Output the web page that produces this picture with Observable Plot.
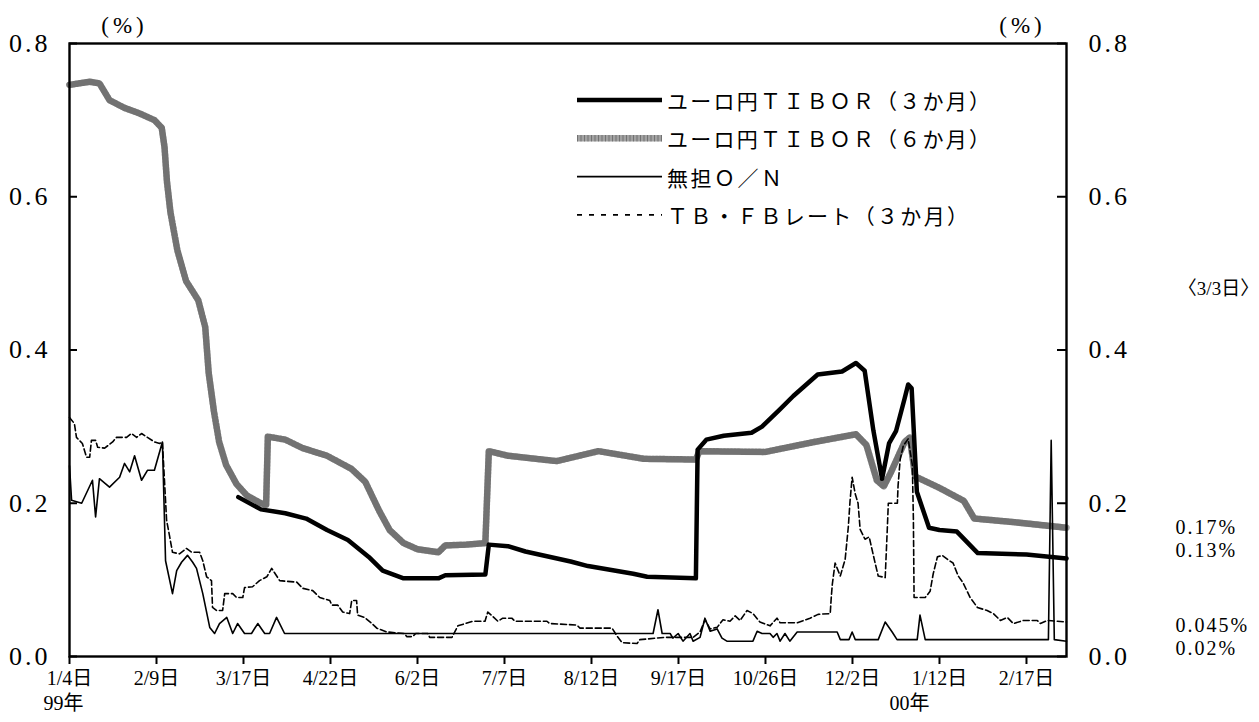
<!DOCTYPE html>
<html><head><meta charset="utf-8">
<script src="https://cdn.jsdelivr.net/npm/d3@7"></script>
<script src="https://cdn.jsdelivr.net/npm/@observablehq/plot@0.6"></script>
<style>
body{margin:0;background:#fff;}
#chart{width:1259px;height:722px;}
</style></head><body><div id="chart"></div>
<script>
// ---- data: x = business-day index from 1999-01-04, y = rate (%) ----
const xTickDays = [0, 25, 50, 75, 100, 125, 150, 175, 200, 225, 250, 275];
const xTickLabels = ["1/4日","2/9日","3/17日","4/22日","6/2日","7/7日","8/12日","9/17日","10/26日","12/2日","1/12日","2/17日"];
const yTicks = [0, 0.2, 0.4, 0.6, 0.8];
const yearDays = [0, 250];
const yearLabels = ["99年", "00年"];
const seriesNames = ["ユーロ円ＴＩＢＯＲ（３か月）", "ユーロ円ＴＩＢＯＲ（６か月）", "無担Ｏ／Ｎ", "ＴＢ・ＦＢレート（３か月）"];
const lastDay = 286.5;
const endValues = [0.17, 0.13, 0.045, 0.02];
const endLabels = ["0.17%", "0.13%", "0.045%", "0.02%"];
const endDate = "〈3/3日〉";

const tibor6m = [[0,.746],[5.8,.750],[8.6,.748],[11.5,.726],[15.8,.716],[20,.709],[24.4,.700],[26.5,.690],[27.3,.665],[28,.620],[29,.580],[31,.530],[33.5,.490],[37,.465],[39,.430],[40,.370],[41.5,.320],[43,.280],[45,.250],[48,.225],[51,.210],[55,.200],[56.5,.198],[57,.287],[62,.283],[67,.272],[74,.262],[81,.245],[85,.228],[89,.190],[92,.165],[96,.148],[100,.140],[106,.136],[108,.145],[114,.146],[119.5,.148],[120.5,.268],[126,.262],[140,.255],[152,.268],[165,.258],[180,.257],[181,.268],[200,.267],[214,.280],[226,.290],[229,.276],[232,.230],[234,.222],[236,.240],[240,.280],[241.5,.286],[243,.235],[250,.220],[257,.203],[260,.180],[270,.176],[286.5,.168]];

const tibor3m = [[48.5,.208],[55,.192],[62,.187],[68,.180],[74,.165],[80,.152],[86,.130],[90,.112],[96,.102],[106,.102],[108,.106],[119.5,.107],[120.5,.146],[126,.144],[131,.137],[144,.124],[149,.118],[162,.108],[166,.104],[180,.102],[180.5,.270],[183,.283],[188,.288],[196,.292],[199,.300],[204,.322],[208,.340],[215,.368],[222,.372],[226,.383],[228.5,.373],[231,.295],[233.5,.232],[235.5,.278],[237.5,.294],[240,.337],[241,.355],[242,.350],[243.5,.215],[247,.168],[250,.165],[255,.163],[261,.135],[275,.133],[286.5,.128]];

const overnight = [[0,.249],[0.6,.204],[3.5,.200],[6.6,.230],[7.5,.182],[8.6,.232],[11.5,.221],[14.4,.234],[15.8,.252],[17.3,.241],[18.7,.262],[20.7,.230],[22.4,.243],[24.4,.243],[26.7,.280],[27.6,.125],[29.6,.082],[30.8,.112],[32.2,.123],[33.9,.132],[35.4,.123],[36.5,.115],[38.3,.082],[40.3,.038],[41.7,.030],[43.1,.043],[45.2,.051],[46.9,.030],[48.3,.043],[50.3,.030],[52.3,.030],[54.1,.043],[56.1,.030],[57.5,.030],[59.5,.051],[61.8,.030],[167.7,.030],[169.1,.061],[170.3,.030],[172.6,.030],[173.4,.024],[174.9,.030],[176.3,.020],[178.3,.030],[179.2,.020],[181.2,.025],[182.6,.050],[184.1,.033],[186.1,.036],[187.5,.024],[188.9,.020],[196.4,.020],[197.6,.033],[199,.030],[201.3,.030],[202.2,.025],[203.3,.030],[204.2,.020],[205.6,.030],[207,.020],[209.1,.032],[220.6,.032],[221.5,.022],[224,.022],[224.9,.032],[225.8,.022],[232.4,.022],[234.4,.045],[236.4,.032],[237.8,.022],[243.6,.022],[244.4,.054],[245.9,.022],[281.3,.022],[282.1,.282],[283,.022],[286.5,.020]];

const tbfb = [[0,.312],[1.4,.304],[2,.286],[3.7,.278],[4.9,.260],[5.8,.260],[6.3,.282],[7.5,.282],[8.1,.273],[10.1,.272],[12.4,.280],[13.5,.286],[16.4,.286],[17.8,.291],[19.3,.286],[20.7,.291],[22.4,.286],[24.4,.280],[25.9,.278],[26.7,.280],[27.9,.178],[28.8,.156],[29.6,.136],[31.6,.134],[33.6,.141],[35.1,.136],[37.4,.136],[38.3,.125],[39.4,.104],[40.8,.099],[41.1,.064],[42.3,.060],[44,.060],[44.6,.082],[46.9,.082],[48,.077],[49.8,.077],[50.3,.090],[52.6,.091],[54.6,.099],[56.7,.104],[58.1,.115],[60.4,.099],[65.3,.097],[67,.089],[69.9,.086],[71.9,.077],[74.8,.073],[75.4,.067],[77.1,.067],[78.5,.058],[80.5,.056],[81.1,.073],[82.5,.073],[82.8,.054],[84.8,.051],[86.9,.043],[88.3,.037],[91.2,.032],[96.3,.030],[96.9,.026],[98.6,.026],[99.5,.030],[103,.030],[103.5,.025],[109.9,.025],[111.6,.040],[115.9,.046],[119.4,.046],[120.2,.058],[121.7,.052],[123.1,.046],[124.5,.050],[127.1,.050],[128,.046],[137.2,.046],[138,.043],[145.8,.041],[146.7,.037],[155.9,.037],[157.3,.027],[158.8,.018],[163.1,.017],[163.9,.022],[171.1,.025],[179.2,.025],[181.2,.032],[182.6,.048],[184.1,.036],[186.1,.038],[187.8,.048],[189.8,.046],[191.3,.053],[192.7,.047],[194.7,.060],[196.4,.056],[198.4,.045],[201.3,.040],[203.3,.050],[204.2,.044],[209.1,.044],[212.8,.050],[215.1,.055],[218.6,.056],[218.9,.077],[219.2,.094],[220,.122],[221.5,.105],[222.9,.127],[223.8,.169],[224.3,.203],[224.9,.234],[225.8,.212],[226.6,.200],[227.2,.166],[228.6,.153],[229.8,.156],[230.6,.140],[231.5,.122],[232.4,.105],[234.4,.103],[235,.166],[235.3,.200],[237.9,.200],[238.1,.223],[238.7,.257],[239.6,.275],[241,.284],[242.2,.250],[242.5,.180],[242.7,.077],[245.9,.077],[247.3,.085],[248.2,.108],[249.4,.130],[250.8,.132],[252.5,.126],[253.9,.122],[255.4,.105],[256.8,.096],[258.8,.077],[260.9,.064],[263.7,.060],[265.5,.056],[267.5,.047],[269.5,.051],[271.2,.043],[274.1,.047],[278.1,.047],[279,.043],[281,.047],[286.5,.045]];

// ---- layout ----
const W = 1259, H = 722, mL = 69, mR = 193, mT = 43, mB = 66;
const frameW = W - mL - mR;
const toObj = a => a.map(([d, v]) => ({d, v}));
const labelOf = new Map(xTickDays.map((d, i) => [d, xTickLabels[i]]));
const serif = "'Liberation Serif', 'Noto Sans CJK JP', serif";
const endDy = [1, -6, 3.5, 7];
const yearDx = [-26, -50];
const grayBase = "#a2a2a2", graySpeck = "#4a4a4a";

const plot = Plot.plot({
  width: W, height: H,
  marginLeft: mL, marginRight: mR, marginTop: mT, marginBottom: mB,
  style: {fontFamily: serif, background: "white", color: "black", overflow: "visible"},
  x: {domain: [0, lastDay], axis: null},
  y: {domain: [0, 0.8], axis: null},
  marks: [
    Plot.line(toObj(tibor6m), {x: "d", y: "v", stroke: grayBase, strokeWidth: 6.5}),
    Plot.line(toObj(tibor6m), {x: "d", y: "v", stroke: graySpeck, strokeWidth: 6.5, strokeDasharray: "1,2.5", strokeOpacity: 0.55}),
    Plot.line(toObj(tibor3m), {x: "d", y: "v", stroke: "#000", strokeWidth: 4.5}),
    Plot.line(toObj(overnight), {x: "d", y: "v", stroke: "#000", strokeWidth: 1.6}),
    Plot.line(toObj(tbfb), {x: "d", y: "v", stroke: "#000", strokeWidth: 1.6, strokeDasharray: "6,3"}),
    Plot.frame({stroke: "#000", strokeWidth: 2.4}),
    Plot.tickY(yTicks, {y: d => d, insetRight: frameW - 8, stroke: "#000", strokeWidth: 2}),
    Plot.tickY(yTicks, {y: d => d, insetLeft: frameW - 9, stroke: "#000", strokeWidth: 2}),
    Plot.axisX({ticks: xTickDays, tickFormat: d => labelOf.get(d), tickSize: 8, tickPadding: 6, fontSize: 20, strokeWidth: 2, label: null}),
    Plot.axisY({anchor: "left", ticks: yTicks, tickFormat: d => d.toFixed(1), tickSize: 0, tickPadding: 19, fontSize: 26, label: null}),
    Plot.axisY({anchor: "right", ticks: yTicks, tickFormat: d => d.toFixed(1), tickSize: 0, tickPadding: 22, fontSize: 26, label: null}),
    ...yearLabels.map((t, i) => Plot.text([t], {x: () => yearDays[i], frameAnchor: "bottom", dy: 47, dx: yearDx[i], textAnchor: "start", lineAnchor: "middle", fontSize: 20, text: d => d})),
    Plot.text(["(%)"], {frameAnchor: "top-left", dx: 55, dy: -18, textAnchor: "middle", lineAnchor: "middle", fontSize: 23, text: d => d}),
    Plot.text(["(%)"], {frameAnchor: "top-right", dx: -44, dy: -18, textAnchor: "middle", lineAnchor: "middle", fontSize: 23, text: d => d}),
    Plot.text([endDate], {frameAnchor: "right", dx: 152, dy: -61, textAnchor: "middle", lineAnchor: "middle", fontSize: 19, text: d => d}),
    ...endLabels.map((t, i) => Plot.text([t], {x: () => lastDay, y: () => endValues[i], dx: 109, dy: endDy[i], textAnchor: "start", lineAnchor: "middle", fontSize: 20, text: d => d}))
  ]
});

const svg = d3.select(plot);
svg.selectAll('[aria-label="y-axis tick label"] text').style("letter-spacing", "3px");
svg.selectAll('text').filter(function(){ return /%$/.test(this.textContent) && this.textContent.length > 3; }).style("letter-spacing", "2px");
svg.selectAll('text').filter(function(){ return this.textContent === "(%)"; }).style("letter-spacing", "4px");

// legend (inside plot, upper right)
const legendStyles = [
  {stroke: "#000", width: 4.5, dash: null, len: 323},
  {stroke: grayBase, width: 6.5, dash: null, len: 323, speck: true},
  {stroke: "#000", width: 1.6, dash: null, len: 115},
  {stroke: "#000", width: 1.6, dash: "5,7", len: 301}
];
const lg = svg.append("g").attr("aria-label", "legend");
seriesNames.forEach((name, i) => {
  const s = legendStyles[i];
  const y = 100 + i * 38.3;
  lg.append("line").attr("x1", 577).attr("x2", 662).attr("y1", y).attr("y2", y)
    .attr("stroke", s.stroke).attr("stroke-width", s.width)
    .attr("stroke-dasharray", s.dash);
  if (s.speck) {
    lg.append("line").attr("x1", 577).attr("x2", 662).attr("y1", y).attr("y2", y)
      .attr("stroke", graySpeck).attr("stroke-width", s.width)
      .attr("stroke-dasharray", "1,2.5").attr("stroke-opacity", 0.55);
  }
  lg.append("text").attr("x", 667).attr("y", y).attr("dominant-baseline", "central")
    .attr("text-anchor", "start")
    .attr("font-family", "'Noto Sans CJK JP', sans-serif").attr("font-size", 21)
    .attr("textLength", s.len).attr("lengthAdjust", "spacing")
    .attr("fill", "#000").text(name);
});

document.getElementById("chart").appendChild(plot);
</script></body></html>
